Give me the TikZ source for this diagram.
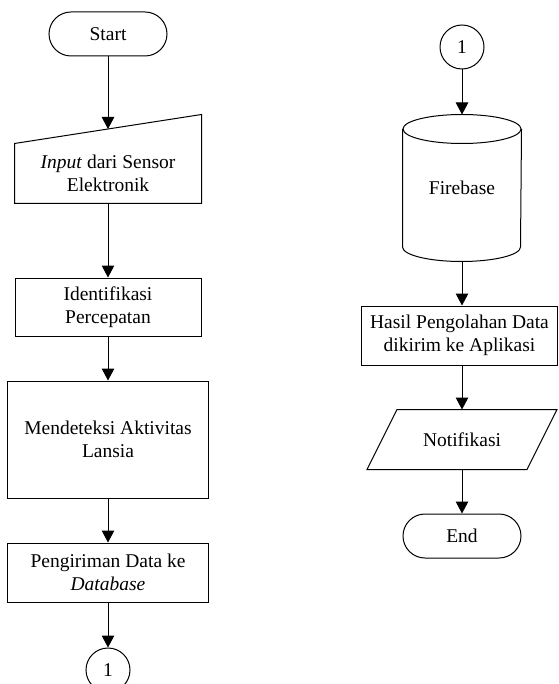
\documentclass[tikz,border=0pt]{standalone}
\usepackage{fontspec}
\setmainfont{Liberation Serif}
\usetikzlibrary{arrows.meta,positioning}

\begin{document}
\begin{tikzpicture}[->,>={Triangle[length=12pt,width=12.5pt]},line width=1pt,
                    node distance=44pt,font=\fontsize{19.5}{23.5}\selectfont]
  \tikzstyle{every node}=[align=center,inner sep=0pt]
  \tikzstyle{terminal}=[draw,rectangle,rounded corners=22pt,minimum width=118pt,minimum height=44pt]
  \tikzstyle{proses}=[draw,rectangle,minimum width=186pt,minimum height=58pt]
  \tikzstyle{konektor}=[draw,circle,minimum size=44pt]
  \useasboundingbox (0,0) rectangle (558pt,-684pt);

  \node[terminal] (start) at (108pt,-34pt)              {Start};
  \node[rectangle,minimum width=186pt,minimum height=59pt]
                  (input) [below=87pt of start]         {\textit{Input} dari Sensor\\Elektronik}; % input manual
  \node[proses]   (ident) [below=74pt of input]         {Identifikasi\\Percepatan};
  \node[proses,minimum width=201pt,minimum height=117pt]
                  (deteksi) [below=of ident]            {Mendeteksi Aktivitas\\Lansia};
  \node[proses,minimum width=201pt,minimum height=59pt]
                  (kirim) [below=of deteksi]            {Pengiriman Data ke\\\textit{Database}};
  \node[konektor] (con1) [below=45pt of kirim]          {1};

  \node[konektor] (con2) at (462pt,-47pt)               {1};
  \node[rectangle,minimum width=118pt,minimum height=146pt]
                  (fire) [below=45pt of con2]           {Firebase}; % database
  \node[proses,minimum width=196pt,minimum height=59pt]
                  (hasil) [below=44pt of fire,xshift=-2.5pt] {Hasil Pengolahan Data\\dikirim ke Aplikasi};
  \node[rectangle,minimum width=129pt,minimum height=59pt]
                  (notif) [below=of hasil,xshift=2.5pt] {Notifikasi}; % output
  \node[terminal] (selesai) [below=of notif]            {End};

  % bentuk input manual
  \draw[-] (input.south west) -- (input.north west) -- ([yshift=29pt]input.north east)
           -- (input.south east) -- cycle;
  \coordinate (inputtop) at ([yshift=14.5pt]input.north);
  % bentuk silinder
  \draw[-] ([yshift=-14.5pt]fire.north) ellipse [x radius=59pt,y radius=14.5pt];
  \draw[-] ([yshift=-14.5pt]fire.north west) -- ([yshift=14.5pt]fire.south west)
           arc[start angle=180,end angle=360,x radius=59pt,y radius=14.5pt]
           -- ([yshift=-14.5pt]fire.north east);
  % bentuk jajar genjang
  \draw[-] ([xshift=-30pt]notif.south west) -- (notif.north west) -- ([xshift=30pt]notif.north east)
           -- (notif.south east) -- cycle;

  \path (start)   edge (inputtop)
        (input)   edge (ident)
        (ident)   edge (deteksi)
        (deteksi) edge (kirim)
        (kirim)   edge (con1)
        (con2)    edge (fire)
        (fire)    edge (fire.south |- hasil.north)
        (hasil.south -| notif.north) edge (notif)
        (notif)   edge (selesai)
       ;
\end{tikzpicture}
\end{document}
